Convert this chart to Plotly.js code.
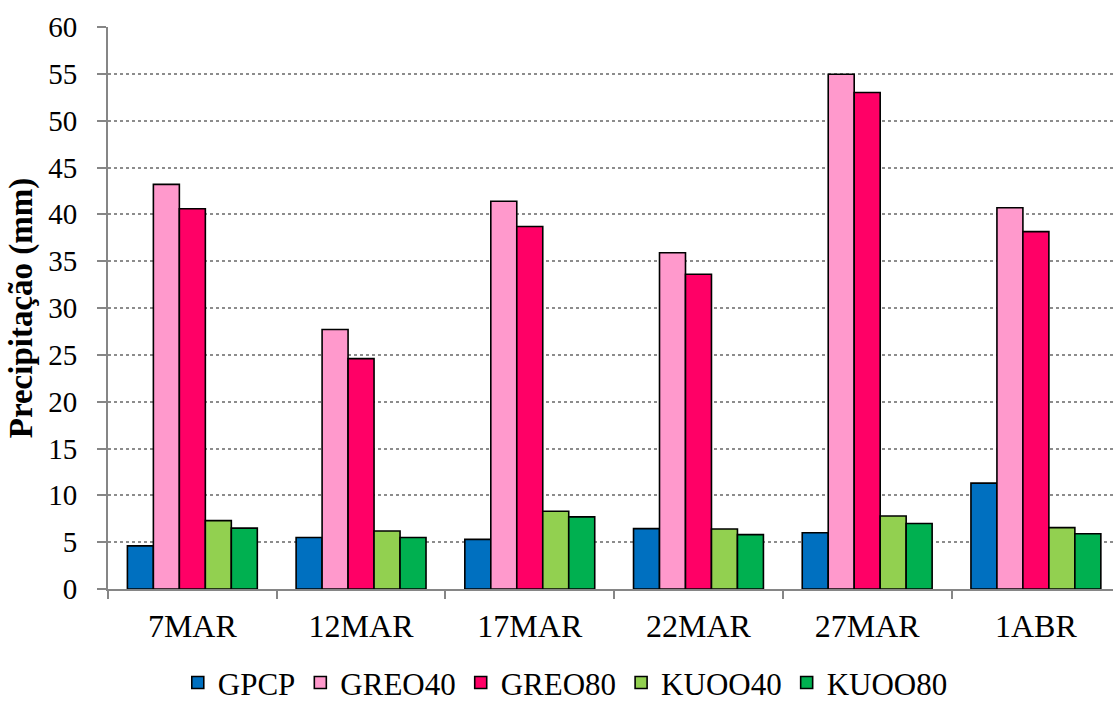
<!DOCTYPE html>
<html>
<head>
<meta charset="utf-8">
<script src="https://cdn.plot.ly/plotly-3.0.1.min.js"></script>
<style>
html,body{margin:0;padding:0;background:#fff;}
#chart{width:1113px;height:704px;}
</style>
</head>
<body>
<div id="chart"></div>
<script>
const categories = ["7MAR", "12MAR", "17MAR", "22MAR", "27MAR", "1ABR"];
const GPCP   = [4.6, 5.5, 5.3, 6.45, 6.0, 11.3];
const GREO40 = [43.2, 27.7, 41.4, 35.9, 54.95, 40.7];
const GREO80 = [40.6, 24.6, 38.7, 33.6, 53.0, 38.15];
const KUOO40 = [7.3, 6.2, 8.3, 6.4, 7.8, 6.55];
const KUOO80 = [6.5, 5.5, 7.7, 5.8, 7.0, 5.9];
const seriesNames = ["GPCP", "GREO40", "GREO80", "KUOO40", "KUOO80"];
const seriesValues = [GPCP, GREO40, GREO80, KUOO40, KUOO80];
const seriesColors = ["#0070C0", "#FF99CC", "#FF0066", "#92D050", "#00B050"];
const yTicks = [0, 5, 10, 15, 20, 25, 30, 35, 40, 45, 50, 55, 60];

const traces = seriesNames.map((n, i) => ({
  type: "bar",
  name: n,
  x: categories,
  y: seriesValues[i],
  marker: {color: seriesColors[i], line: {color: "#000000", width: 1.6}},
  hoverinfo: "x+y+name"
}));

const layout = {
  width: 1113,
  height: 704,
  margin: {l: 108, r: 0, t: 27, b: 115, pad: 0, autoexpand: false},
  paper_bgcolor: "#ffffff",
  plot_bgcolor: "#ffffff",
  barmode: "group",
  bargap: 0.23,
  bargroupgap: 0,
  font: {family: "Liberation Serif, Times New Roman, serif", color: "#000000"},
  showlegend: true,
  legend: {
    orientation: "h",
    x: 0.455, xanchor: "center", xref: "paper",
    y: 0.03, yanchor: "middle", yref: "container",
    font: {size: 31, family: "Liberation Serif, serif", color: "#000"},
    itemwidth: 30,
    traceorder: "normal"
  },
  xaxis: {
    type: "category",
    range: [-0.5, 5.457],
    automargin: false,
    showline: true, linecolor: "#868686", linewidth: 2,
    ticks: "outside", tickson: "boundaries", ticklen: 8, tickwidth: 2, tickcolor: "#868686",
    tickfont: {size: 32, family: "Liberation Serif, serif", color: "#000"},
    ticklabelstandoff: 8,
    showgrid: false, zeroline: false
  },
  yaxis: {
    range: [0, 60],
    automargin: false,
    tickvals: yTicks,
    ticktext: yTicks.map(String),
    showline: true, linecolor: "#868686", linewidth: 2,
    ticks: "outside", ticklen: 9, tickwidth: 2, tickcolor: "#868686",
    tickfont: {size: 29, family: "Liberation Serif, serif", color: "#000"},
    ticklabelstandoff: 14,
    showgrid: true, gridcolor: "#8c8c8c", gridwidth: 1.5, griddash: "dot",
    zeroline: false,
    title: {text: "<b>Precipitação (mm)</b>", font: {size: 33, family: "Liberation Serif, serif", color: "#000"}, standoff: 6}
  }
};

Plotly.newPlot("chart", traces, layout, {displayModeBar: false, responsive: false});
</script>
</body>
</html>
